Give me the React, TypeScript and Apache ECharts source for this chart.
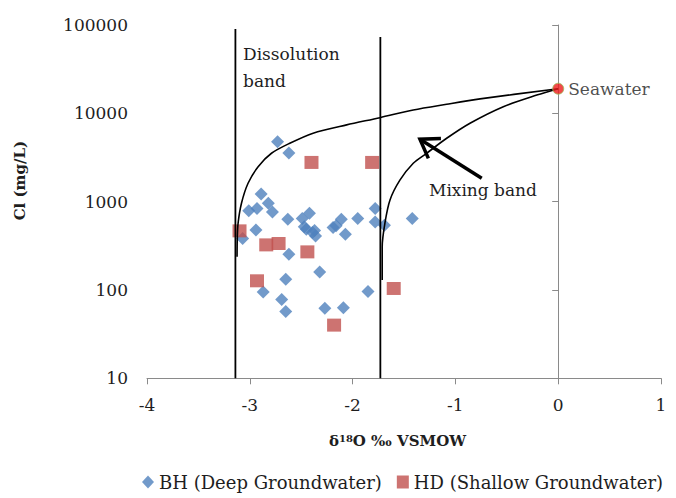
import React, { useEffect, useRef } from "react";
import * as echarts from "echarts";

// Deep groundwater (BH)
const BH_X = [-2.73, -2.62, -2.89, -3.01, -2.93, -2.82, -2.78, -2.94, -3.07, -2.63, -2.49, -2.42, -2.45, -2.39, -2.36, -2.19, -2.11, -2.16, -2.07, -1.95, -1.78, -1.78, -1.69, -1.42, -2.62, -2.32, -2.65, -2.87, -2.69, -2.65, -2.27, -2.09, -1.85, -2.47, -2.37];
const BH_Y = [4770, 3550, 1217, 787, 838, 961, 766, 479, 383, 631, 645, 741, 488, 448, 409, 511, 631, 532, 428, 645, 838, 590, 542, 645, 254, 160, 132, 95, 78, 57, 62, 63, 96, 520, 470];

// Shallow groundwater (HD)
const HD_X = [-2.40, -1.81, -3.10, -2.84, -2.72, -2.44, -2.93, -1.60, -2.18];
const HD_Y = [2780, 2780, 467, 324, 336, 270, 127, 104, 40];

// Seawater end member
const SEA_X = [0];
const SEA_Y = [19000];

// Dissolution band curve
const DISS_X = [-3.124, -3.122, -3.114, -3.081, -3.017, -2.919, -2.789, -2.611, -2.384, -2.058, -1.734, -1.410, -1.085, -0.760, 0];
const DISS_Y = [238, 368, 569, 959, 1615, 2490, 3530, 4580, 5960, 7400, 8930, 10930, 12680, 14560, 19000];

// Mixing band curve
const MIX_X = [-1.712, -1.712, -1.686, -1.637, -1.540, -1.410, -1.280, -1.085, -0.858, -0.534, -0.208, 0];
const MIX_Y = [130, 309, 569, 1040, 1750, 2720, 3530, 5220, 7730, 11900, 16100, 19000];

// Vertical band boundaries
const BAND_X = [-3.14, -1.73];
const BAND_TOP = [90000, 73000];
const BAND_BOTTOM = 10;

// Arrow: tail x, tail y, head x, head y
const ARROW = [-0.744, 1841, -1.345, 5095];

const X_TICKS = [-4, -3, -2, -1, 0, 1];
const Y_TICKS = [10, 100, 1000, 10000, 100000];

const SERIF = "DejaVu Serif";
const TXT = "#1e1e1e";
const AXIS = "#8a8a8a";

const zip = (xs: number[], ys: number[]) => xs.map((x, i) => [x, ys[i]]);

export default function App() {
  const ref = useRef<HTMLDivElement>(null);
  useEffect(() => {
    document.body.style.margin = "0";
    if (!ref.current) return;
    const chart = echarts.init(ref.current, null, { renderer: "svg" });
    const option: any = {
      animation: false,
      backgroundColor: "#fff",
      grid: { left: 147, top: 25, width: 514, height: 353.3, containLabel: false },
      legend: {
        data: [
          { name: "BH (Deep Groundwater)", icon: "diamond" },
          { name: "HD (Shallow Groundwater)", icon: "rect" },
        ],
        left: 137,
        top: 468,
        itemWidth: 12,
        itemHeight: 13,
        itemGap: 15,
        textStyle: { fontFamily: SERIF, fontSize: 18, color: TXT },
      },
      xAxis: {
        type: "value",
        min: X_TICKS[0],
        max: X_TICKS[X_TICKS.length - 1],
        interval: 1,
        axisLine: { show: true, lineStyle: { color: AXIS, width: 1 } },
        axisTick: { show: true, inside: false, length: 6, lineStyle: { color: AXIS } },
        splitLine: { show: false },
        axisLabel: { fontFamily: SERIF, fontSize: 17, color: TXT, margin: 18 },
        name: "{d|δ}{s|18}{d|O ‰ VSMOW}",
        nameLocation: "middle",
        nameGap: 55,
        nameTextStyle: {
          padding: [0, 13, 0, 0],
          rich: {
            d: { fontFamily: SERIF, fontSize: 15, fontWeight: "bold", color: TXT },
            s: { fontFamily: SERIF, fontSize: 10, fontWeight: "bold", color: TXT, verticalAlign: "top", padding: [0, 0, 6, 0] },
          },
        },
      },
      yAxis: {
        type: "log",
        logBase: 10,
        min: Y_TICKS[0],
        max: Y_TICKS[Y_TICKS.length - 1],
        axisLine: { show: true, lineStyle: { color: AXIS, width: 1 } },
        axisTick: { show: true, inside: false, length: 6, lineStyle: { color: AXIS } },
        splitLine: { show: false },
        minorTick: { show: false },
        axisLabel: {
          fontFamily: SERIF,
          fontSize: 17,
          color: TXT,
          margin: 19,
          formatter: (v: number) => String(Math.round(v)),
        },
        name: "Cl (mg/L)",
        nameLocation: "middle",
        nameRotate: 90,
        nameGap: 120,
        nameTextStyle: {
          fontFamily: SERIF,
          fontSize: 15,
          fontWeight: "bold",
          color: TXT,
          padding: [0, 0, 0, 42],
        },
      },
      series: [
        {
          name: "BH (Deep Groundwater)",
          type: "scatter",
          symbol: "diamond",
          symbolSize: 13,
          itemStyle: { color: "#4F81BD" },
          data: zip(BH_X, BH_Y),
          z: 2,
        },
        {
          name: "HD (Shallow Groundwater)",
          type: "scatter",
          symbol: "rect",
          symbolSize: [14, 13],
          itemStyle: { color: "#C0504D" },
          data: zip(HD_X, HD_Y),
          z: 3,
        },
        {
          name: "Dissolution",
          type: "line",
          data: zip(DISS_X, DISS_Y),
          showSymbol: false,
          symbol: "none",
          smooth: 0.3,
          lineStyle: { color: "#000", width: 1.6 },
          z: 4,
        },
        {
          name: "Mixing",
          type: "line",
          data: zip(MIX_X, MIX_Y),
          showSymbol: false,
          symbol: "none",
          smooth: 0.3,
          lineStyle: { color: "#000", width: 1.6 },
          z: 4,
        },
        ...BAND_X.map((bx, i) => ({
          name: "band" + i,
          type: "line",
          data: [
            [bx, BAND_BOTTOM],
            [bx, BAND_TOP[i]],
          ],
          showSymbol: false,
          symbol: "none",
          lineStyle: { color: "#000", width: 1.8 },
          z: 4,
        })),
        {
          name: "Seawater",
          type: "scatter",
          symbol: "circle",
          symbolSize: 11,
          itemStyle: { color: "#EE1C1C", borderColor: "#9BBB59", borderWidth: 1 },
          data: zip(SEA_X, SEA_Y),
          label: {
            show: true,
            position: "right",
            distance: 4,
            formatter: "Seawater",
            fontFamily: SERIF,
            fontSize: 17,
            color: TXT,
          },
          z: 6,
        },
        {
          name: "arrow",
          type: "custom",
          coordinateSystem: "cartesian2d",
          encode: { x: [0, 2], y: [1, 3] },
          data: [ARROW],
          z: 5,
          renderItem: (params: any, api: any) => {
            const a = api.coord([api.value(0), api.value(1)]);
            const b = api.coord([api.value(2), api.value(3)]);
            const ang = Math.atan2(a[1] - b[1], a[0] - b[0]);
            const L = 21;
            const h = (34 * Math.PI) / 180;
            const p1 = [b[0] + L * Math.cos(ang - h), b[1] + L * Math.sin(ang - h)];
            const p2 = [b[0] + L * Math.cos(ang + h), b[1] + L * Math.sin(ang + h)];
            return {
              type: "group",
              children: [
                {
                  type: "line",
                  shape: { x1: a[0], y1: a[1], x2: b[0], y2: b[1] },
                  style: { stroke: "#000", lineWidth: 3.5 },
                },
                {
                  type: "polyline",
                  shape: { points: [p1, b, p2] },
                  style: { stroke: "#000", lineWidth: 3.5, fill: "none", lineJoin: "miter" },
                },
              ],
            };
          },
        },
      ],
      graphic: [
        {
          type: "text",
          x: 243,
          y: 40,
          style: {
            text: "Dissolution\nband",
            fontFamily: SERIF,
            fontSize: 17,
            lineHeight: 27,
            fill: TXT,
          },
          z: 10,
        },
        {
          type: "text",
          x: 429,
          y: 190,
          style: {
            text: "Mixing band",
            fontFamily: SERIF,
            fontSize: 17,
            fill: TXT,
            verticalAlign: "middle",
          },
          z: 10,
        },
      ],
    };
    chart.setOption(option);
    return () => chart.dispose();
  }, []);
  return <div ref={ref} style={{ width: 676, height: 498 }} />;
}
